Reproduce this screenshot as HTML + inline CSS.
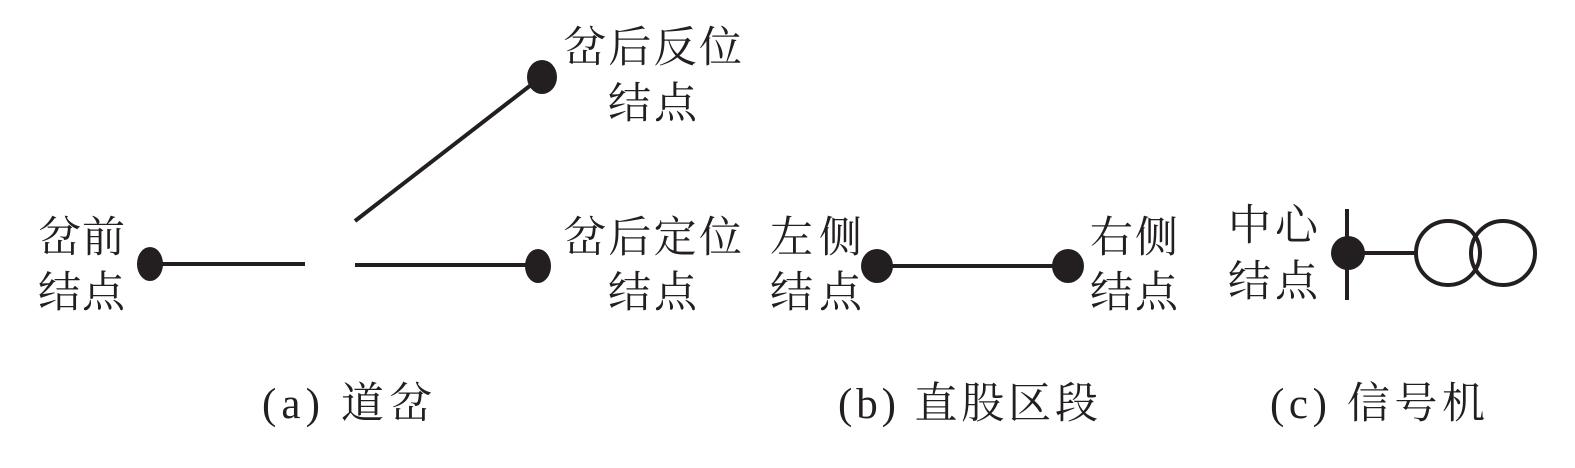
<!DOCTYPE html>
<html><head><meta charset="utf-8"><style>
html,body{margin:0;padding:0;background:#fff;}
svg{display:block;}
text{font-family:"Liberation Serif","Noto Serif CJK SC",serif;font-size:43px;fill:#231f20;}
</style></head><body>
<svg width="1575" height="468" viewBox="0 0 1575 468" xmlns="http://www.w3.org/2000/svg">
<g stroke="#231f20" stroke-width="4" fill="none">
<line x1="150" y1="264" x2="305" y2="264"/>
<line x1="355" y1="265" x2="535" y2="265"/>
<line x1="355" y1="221" x2="540" y2="78"/>
<line x1="877" y1="266" x2="1068" y2="266"/>
<line x1="1347" y1="209" x2="1347" y2="300"/>
<line x1="1348" y1="253" x2="1416" y2="253"/>
<circle cx="1448" cy="253" r="32"/>
<circle cx="1503" cy="253" r="32"/>
</g>
<g fill="#231f20">
<ellipse cx="150" cy="264" rx="13" ry="17"/>
<ellipse cx="538" cy="266" rx="13" ry="17"/>
<ellipse cx="542" cy="77" rx="15" ry="17"/>
<ellipse cx="877" cy="266" rx="16" ry="17"/>
<ellipse cx="1068" cy="266" rx="16" ry="17"/>
<circle cx="1348" cy="253" r="17"/>
</g>
<text x="38" y="252" textLength="87">岔前</text>
<text x="38" y="307" textLength="87">结点</text>
<text x="563" y="62" textLength="179">岔后反位</text>
<text x="608" y="118" textLength="89">结点</text>
<text x="563" y="252" textLength="179">岔后定位</text>
<text x="608" y="307" textLength="89">结点</text>
<text x="770" y="252" textLength="92">左侧</text>
<text x="770" y="307" textLength="92">结点</text>
<text x="1090" y="252" textLength="88">右侧</text>
<text x="1090" y="307" textLength="88">结点</text>
<text x="1228" y="240" textLength="90">中心</text>
<text x="1228" y="296" textLength="90">结点</text>
<text x="262" y="418" textLength="170">(a) 道岔</text>
<text x="838" y="418" textLength="260">(b) 直股区段</text>
<text x="1270" y="418" textLength="215">(c) 信号机</text>
</svg>
</body></html>
